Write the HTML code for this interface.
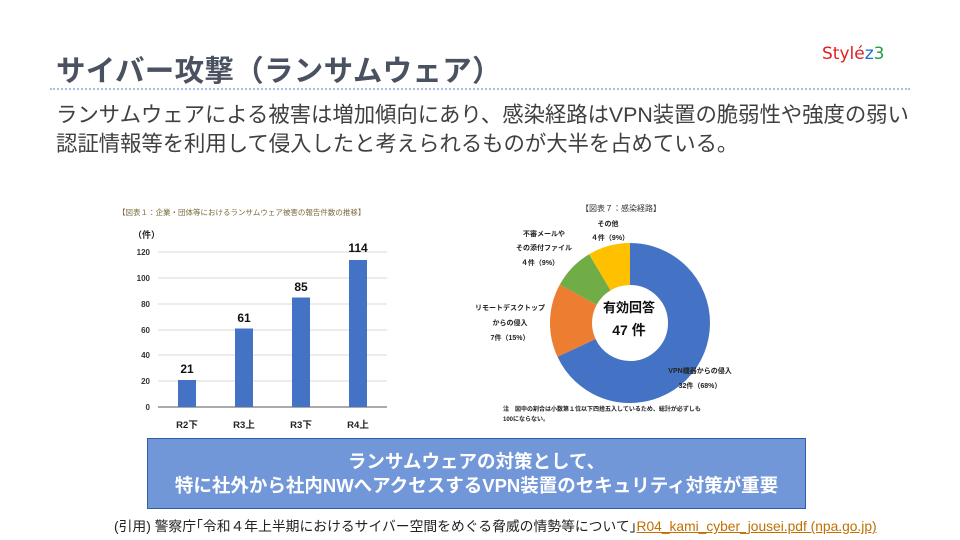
<!DOCTYPE html>
<html><head><meta charset="utf-8"><style>
body{margin:0;width:960px;height:540px;background:#fff;position:relative;overflow:hidden;font-family:"Liberation Sans","Noto Sans CJK JP",sans-serif}
.abs{position:absolute;white-space:nowrap}
</style></head><body>
<div class="abs" style="left:56px;top:48px;font-size:29.5px;font-weight:bold;color:#4a5261;letter-spacing:0.3px">サイバー攻撃（ランサムウェア）</div>
<div class="abs" style="left:822px;top:44px;font-size:17px;font-family:'DejaVu Sans',sans-serif"><span style="color:#e02020">Stylé</span><span style="color:#1a6fd0">z</span><span style="color:#20a040">3</span></div>
<div class="abs" style="left:50px;top:88px;width:860px;border-top:2px dotted #a8bfe6"></div>
<div class="abs" style="left:56px;top:101px;font-size:21.4px;color:#404040;line-height:29px;letter-spacing:-0.05px">ランサムウェアによる被害は増加傾向にあり、感染経路はVPN装置の脆弱性や強度の弱い<br>認証情報等を利用して侵入したと考えられるものが大半を占めている。</div>

<svg class="abs" style="left:0;top:0" width="960" height="540">
<g font-family="Liberation Sans, Noto Sans CJK JP, sans-serif">
<text x="118" y="215" font-size="7.5" fill="#7a6a3a">【図表１：企業・団体等におけるランサムウェア被害の報告件数の推移】</text>
<text x="133" y="238" font-size="9" font-weight="bold" fill="#222">（件）</text>
<g stroke="#d9d9d9" stroke-width="1">
<line x1="158" y1="252" x2="387" y2="252"/><line x1="158" y1="278" x2="387" y2="278"/><line x1="158" y1="304" x2="387" y2="304"/><line x1="158" y1="330" x2="387" y2="330"/><line x1="158" y1="355" x2="387" y2="355"/><line x1="158" y1="381" x2="387" y2="381"/>
</g>
<line x1="158" y1="407" x2="387" y2="407" stroke="#777" stroke-width="1.2"/>
<g font-size="8" font-weight="bold" fill="#333" text-anchor="end">
<text x="150" y="255">120</text><text x="150" y="281">100</text><text x="150" y="307">80</text><text x="150" y="333">60</text><text x="150" y="358">40</text><text x="150" y="384">20</text><text x="150" y="410">0</text>
</g>
<g fill="#4472c4">
<rect x="178" y="380" width="18" height="27"/><rect x="235" y="328.5" width="18" height="78.5"/><rect x="292" y="297.5" width="18" height="109.5"/><rect x="349" y="260" width="18" height="147"/>
</g>
<g font-size="12" font-weight="bold" fill="#111" text-anchor="middle">
<text x="187" y="373">21</text><text x="244" y="322">61</text><text x="301" y="291">85</text><text x="358" y="252">114</text>
</g>
<g font-size="9.5" font-weight="bold" fill="#222" text-anchor="middle">
<text x="187" y="428">R2下</text><text x="244" y="428">R3上</text><text x="301" y="428">R3下</text><text x="358" y="428">R4上</text>
</g>

<text x="621" y="211" font-size="8" fill="#333" text-anchor="middle">【図表７：感染経路】</text>
<g transform="rotate(-90 630 323)" fill="none" stroke-width="42">
<circle cx="630" cy="323" r="59" stroke="#4472c4" stroke-dasharray="252.2 400"/>
<circle cx="630" cy="323" r="59" stroke="#ed7d31" stroke-dasharray="0 252.2 55.2 400"/>
<circle cx="630" cy="323" r="59" stroke="#70ad47" stroke-dasharray="0 307.4 31.5 400"/>
<circle cx="630" cy="323" r="59" stroke="#ffc000" stroke-dasharray="0 338.9 31.8 400"/>
</g>
<text x="629" y="312" font-size="13" font-weight="bold" fill="#111" text-anchor="middle">有効回答</text>
<text x="629" y="335" font-size="14" font-weight="bold" fill="#111" text-anchor="middle">47 件</text>
<g font-size="7" font-weight="bold" fill="#222" text-anchor="middle">
<text x="608" y="226">その他</text><text x="610" y="240">４件（9%）</text>
<text x="544" y="236">不審メールや</text><text x="544" y="250">その添付ファイル</text><text x="540" y="265">４件（9%）</text>
<text x="510" y="310">リモートデスクトップ</text><text x="510" y="325">からの侵入</text><text x="510" y="340">7件（15%）</text>
<text x="700" y="373">VPN機器からの侵入</text><text x="700" y="388">32件（68%）</text>
</g>
<text x="503" y="411" font-size="6" font-weight="bold" fill="#222">注　図中の割合は小数第１位以下四捨五入しているため、総計が必ずしも</text>
<text x="503" y="421" font-size="6" font-weight="bold" fill="#222">100にならない。</text>
</g>
</svg>

<div class="abs" style="left:147px;top:438px;background:#7297d8;border:1.5px solid #2f5ea8;color:#fff;font-weight:bold;font-size:18.5px;text-align:center;line-height:24px;padding-top:11px;box-sizing:border-box;width:659px;height:71px">ランサムウェアの対策として、<br>特に社外から社内NWへアクセスするVPN装置のセキュリティ対策が重要</div>
<div class="abs" style="left:114px;top:515px;font-size:13.8px;color:#222;letter-spacing:0px">(引用) 警察庁｢令和４年上半期におけるサイバー空間をめぐる脅威の情勢等について｣<span style="color:#c07000;text-decoration:underline">R04_kami_cyber_jousei.pdf (npa.go.jp)</span></div>
</body></html>
